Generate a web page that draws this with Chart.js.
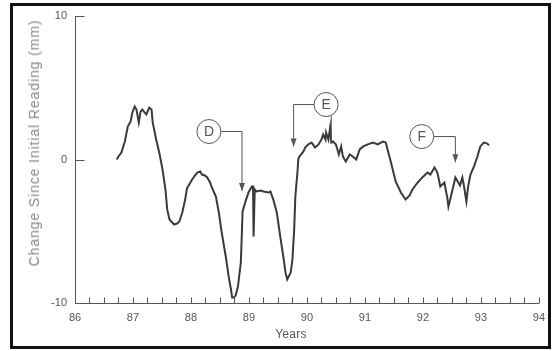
<!DOCTYPE html>
<html lang="en">
<head>
<meta charset="UTF-8">
<title>Change Since Initial Reading</title>
<script src="https://cdn.jsdelivr.net/npm/chart.js"></script>
<style>
  * { margin: 0; padding: 0; box-sizing: border-box; }
  body { width: 553px; height: 351px; background: #fff; position: relative; overflow: hidden;
         font-family: "Liberation Sans", Arial, sans-serif; }
  .frame { position: absolute; left: 10px; top: 3px; width: 541px; height: 346px;
           border: 3px solid #111; }
  .chart-box { position: absolute; left: 0; top: 0; width: 553px; height: 351px; }
  .y-title { position: absolute; left: 34px; top: 143px; transform: translate(-50%, -50%) rotate(-90deg);
             white-space: nowrap; font-size: 14px; letter-spacing: 0.9px; color: #888; }
  .x-title { position: absolute; left: 291px; top: 334px; transform: translate(-50%, -50%);
             font-size: 12px; letter-spacing: 0.3px; color: #555; }
</style>
</head>
<body>
<div class="frame"></div>
<div class="chart-box"><canvas id="chart" width="553" height="351"></canvas></div>
<div class="y-title">Change Since Initial Reading (mm)</div>
<div class="x-title">Years</div>

<script>
// readings, x in years (19xx), y in mm
const years = [
  86.72, 86.75, 86.80, 86.86, 86.91, 86.96, 86.99, 87.03, 87.06, 87.10,
  87.13, 87.16, 87.20, 87.23, 87.28, 87.32, 87.34, 87.40, 87.46, 87.51,
  87.56, 87.59, 87.63, 87.66, 87.71, 87.76, 87.80, 87.85, 87.90, 87.93,
  87.97, 88.02, 88.07, 88.11, 88.16, 88.19, 88.24, 88.28, 88.33, 88.36,
  88.43, 88.48, 88.53, 88.60, 88.65, 88.69, 88.71, 88.74, 88.77, 88.81,
  88.86, 88.88, 88.89, 88.95, 89.00, 89.05, 89.07, 89.08, 89.10, 89.13,
  89.20, 89.25, 89.34, 89.37, 89.42, 89.48, 89.54, 89.60, 89.63, 89.66,
  89.72, 89.75, 89.78, 89.80, 89.84, 89.85, 89.87, 89.90, 89.94, 89.97,
  90.02, 90.08, 90.14, 90.20, 90.25, 90.28, 90.32, 90.33, 90.37, 90.40,
  90.42, 90.45, 90.50, 90.55, 90.59, 90.62, 90.67, 90.74, 90.79, 90.85,
  90.91, 90.97, 91.05, 91.14, 91.22, 91.31, 91.36, 91.39, 91.45, 91.50,
  91.53, 91.62, 91.70, 91.77, 91.82, 91.91, 91.99, 92.08, 92.13, 92.20,
  92.25, 92.30, 92.37, 92.42, 92.44, 92.47, 92.52, 92.56, 92.61, 92.64,
  92.68, 92.71, 92.75, 92.78, 92.82, 92.88, 92.94, 92.99, 93.05, 93.11,
  93.14
];
const change = [
  0.00, 0.21, 0.49, 1.25, 2.30, 2.65, 3.28, 3.69, 3.48, 2.58,
  3.34, 3.48, 3.28, 3.14, 3.62, 3.48, 2.58, 1.39, 0.35, -0.70,
  -2.09, -3.48, -4.18, -4.32, -4.53, -4.46, -4.32, -3.69, -2.79, -2.02,
  -1.74, -1.39, -1.11, -0.91, -0.84, -1.05, -1.11, -1.25, -1.60, -1.95,
  -2.58, -3.69, -5.09, -6.76, -8.15, -9.06, -9.62, -9.62, -9.48, -8.85,
  -7.18, -4.88, -3.62, -2.79, -2.23, -1.88, -1.88, -5.37, -2.09, -2.23,
  -2.16, -2.23, -2.30, -2.23, -2.79, -3.69, -5.37, -6.97, -7.87, -8.36,
  -7.87, -6.97, -4.88, -2.58, -0.70, 0.00, 0.21, 0.35, 0.56, 0.84,
  1.05, 1.18, 0.84, 1.05, 1.39, 1.74, 1.39, 1.88, 1.39, 2.23,
  1.18, 1.25, 1.05, 0.35, 0.91, 0.21, -0.14, 0.35, 0.21, 0.00,
  0.70, 0.91, 1.05, 1.18, 1.05, 1.25, 1.18, 0.70, -0.21, -1.05,
  -1.53, -2.30, -2.79, -2.51, -2.09, -1.60, -1.25, -0.91, -1.05, -0.56,
  -0.91, -1.88, -1.60, -2.65, -3.28, -2.79, -1.95, -1.25, -1.60, -1.81,
  -1.25, -1.88, -2.93, -1.88, -1.05, -0.49, 0.21, 0.91, 1.18, 1.11,
  0.98
];
const yearTicks = [86, 87, 88, 89, 90, 91, 92, 93, 94];
const changeTicks = [-10, 0, 10];

// callouts D, E, F in data units: circle centre, then the leader line (last point gets an arrow)
const callouts = [
  { label: 'D', at: [88.31, 1.95], leader: [[88.88, 1.95], [88.88, -2.2]], arrow: true },
  { label: 'E', at: [90.33, 3.83], leader: [[89.77, 3.83], [89.77, 0.9]], arrow: true },
  { label: 'E', at: [90.33, 3.83], leader: [[90.42, 3.0], [90.42, 1.2]], arrow: false, noCircle: true },
  { label: 'F', at: [91.98, 1.6], leader: [[92.56, 1.6], [92.56, -0.2]], arrow: true }
];

const axisColor = '#555';

const insideTicks = {
  id: 'insideTicks',
  afterDraw(chart) {
    const { ctx, scales: { x, y } } = chart;
    ctx.save();
    ctx.strokeStyle = axisColor;
    ctx.lineWidth = 1;
    const base = Math.round(y.getPixelForValue(-10)) + 0.5;
    for (let v = yearTicks[0] + 0.25; v <= yearTicks[yearTicks.length - 1] + 0.001; v += 0.25) {
      const px = Math.round(x.getPixelForValue(v)) + 0.5;
      ctx.beginPath();
      ctx.moveTo(px, base);
      ctx.lineTo(px, base - 6);
      ctx.stroke();
    }
    const left = Math.round(x.getPixelForValue(86)) + 0.5;
    changeTicks.slice(1).forEach(v => {
      const py = Math.round(y.getPixelForValue(v)) + 0.5;
      ctx.beginPath();
      ctx.moveTo(left, py);
      ctx.lineTo(left + 9, py);
      ctx.stroke();
    });
    ctx.restore();
  }
};

const calloutPlugin = {
  id: 'callouts',
  afterDraw(chart) {
    const { ctx, scales: { x, y } } = chart;
    const r = 12;
    ctx.save();
    ctx.strokeStyle = '#555';
    ctx.fillStyle = '#555';
    ctx.lineWidth = 1;
    callouts.forEach(c => {
      const cx = x.getPixelForValue(c.at[0]);
      const cy = y.getPixelForValue(c.at[1]);
      const pts = c.leader.map(p => [x.getPixelForValue(p[0]), y.getPixelForValue(p[1])]);
      if (!c.noCircle) {
        ctx.beginPath();
        ctx.arc(cx, cy, r, 0, Math.PI * 2);
        ctx.stroke();
        ctx.font = '14px "Liberation Sans", Arial, sans-serif';
        ctx.textAlign = 'center';
        ctx.textBaseline = 'middle';
        ctx.fillText(c.label, cx, cy + 1);
      }
      // start leader at circle edge
      const sx = c.noCircle ? pts[0][0] : cx + Math.sign(pts[0][0] - cx) * r;
      const sy = c.noCircle ? cy + Math.sqrt(Math.max(0, r * r - (pts[0][0] - cx) ** 2)) : cy;
      ctx.beginPath();
      ctx.moveTo(sx, sy);
      pts.forEach(p => ctx.lineTo(p[0], p[1]));
      ctx.stroke();
      if (c.arrow) {
        const [ax, ay] = pts[pts.length - 1];
        ctx.beginPath();
        ctx.moveTo(ax, ay);
        ctx.lineTo(ax - 3, ay - 8);
        ctx.lineTo(ax + 3, ay - 8);
        ctx.closePath();
        ctx.fill();
      }
    });
    ctx.restore();
  }
};

new Chart(document.getElementById('chart'), {
  type: 'line',
  data: {
    datasets: [{
      data: years.map((v, i) => ({ x: v, y: change[i] })),
      borderColor: '#3a3a3a',
      borderWidth: 2,
      pointRadius: 0,
      tension: 0,
      fill: false
    }]
  },
  options: {
    responsive: false,
    animation: false,
    layout: { padding: { left: 24, right: 11, top: 16, bottom: 8 } },
    plugins: { legend: { display: false }, tooltip: { enabled: false } },
    scales: {
      x: {
        type: 'linear',
        min: 86,
        max: 94,
        afterFit(s) { s.height = 40; },
        grid: { display: false, drawTicks: false },
        border: { display: true, color: axisColor, width: 1 },
        afterBuildTicks(s) { s.ticks = yearTicks.map(v => ({ value: v })); },
        ticks: {
          padding: 8,
          color: '#555',
          font: { size: 11, family: '"Liberation Sans", Arial, sans-serif' },
          maxRotation: 0,
          autoSkip: false
        }
      },
      y: {
        min: -10,
        max: 10,
        afterFit(s) { s.width = 51; },
        grid: { display: false, drawTicks: false },
        border: { display: true, color: axisColor, width: 1 },
        afterBuildTicks(s) { s.ticks = changeTicks.map(v => ({ value: v })); },
        ticks: {
          padding: 8,
          color: '#555',
          font: { size: 11, family: '"Liberation Sans", Arial, sans-serif' }
        }
      }
    }
  },
  plugins: [insideTicks, calloutPlugin]
});
</script>
</body>
</html>
